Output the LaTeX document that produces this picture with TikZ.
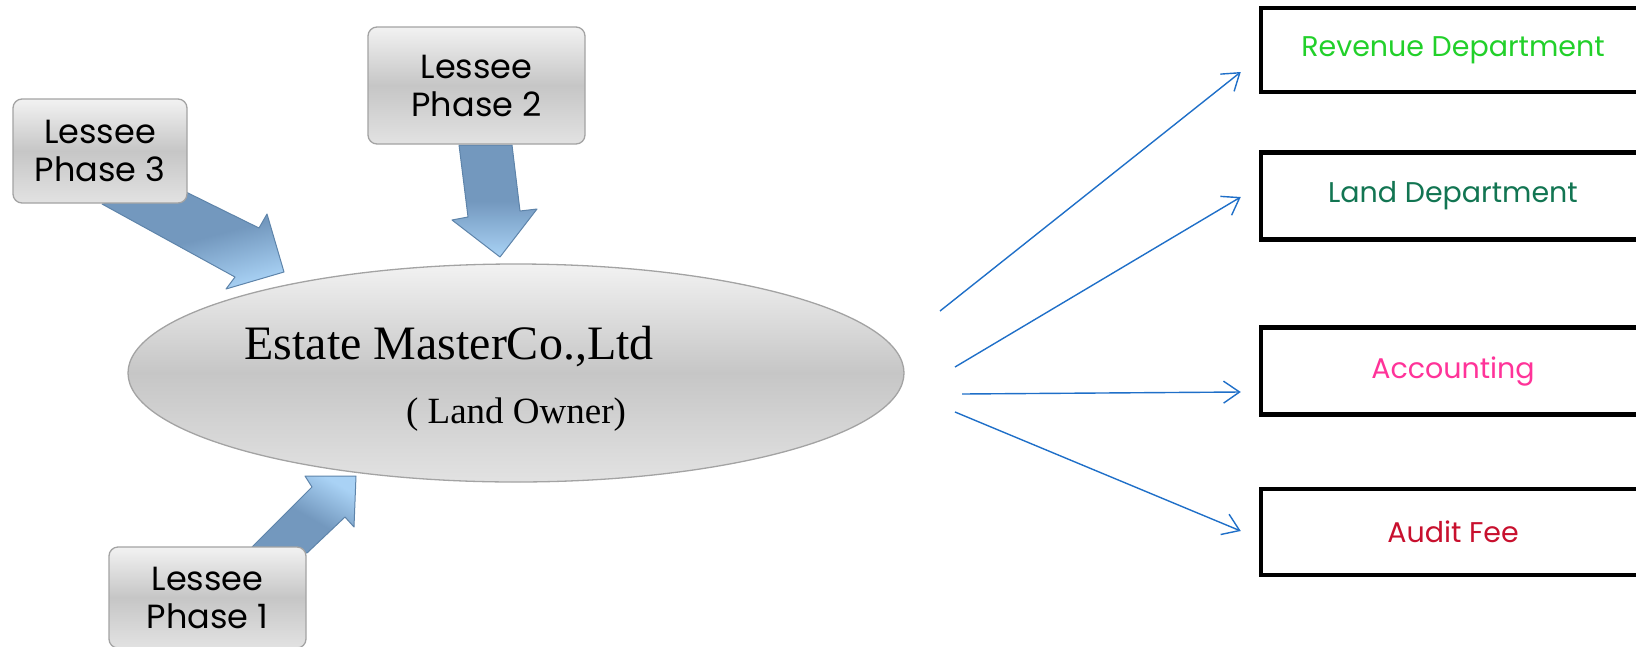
\documentclass[tikz,border=0pt]{standalone}
\usepackage{fontspec}
\setmainfont{Poppins}
\newfontfamily\serifface{Liberation Serif}
\usetikzlibrary{calc,arrows.meta,shapes.geometric}
\definecolor{graybd}{HTML}{A3A3A3}
\definecolor{grayhi}{HTML}{F2F2F2}
\definecolor{graymid}{HTML}{C6C6C6}
\definecolor{graylo}{HTML}{E2E2E2}
\definecolor{adark}{HTML}{7398BE}
\definecolor{alight}{HTML}{A9D2F5}
\definecolor{abord}{HTML}{5E84AA}
\definecolor{linkblue}{HTML}{1F6FC8}
\definecolor{revgreen}{HTML}{22D02A}
\definecolor{landgreen}{HTML}{127552}
\definecolor{accpink}{HTML}{FF3399}
\definecolor{auditred}{HTML}{C8102E}
\tikzset{
  lessee/.style={draw=graybd, line width=1.3pt, rounded corners=9pt,
    top color=grayhi, bottom color=graylo, middle color=graymid,
    align=center, font=\fontsize{33.5}{38}\selectfont, inner sep=0pt},
  deptbox/.style={draw=black, line width=4.5pt, fill=white, minimum width=384pt,
    inner sep=0pt, font=\fontsize{28.5}{32}\selectfont},
  blockarrow/.style={draw=abord, line width=1pt, line join=round},
  link/.style={draw=linkblue, line width=1.4pt, -{Straight Barb[length=16pt,width=22pt,line width=1.4pt]}},
  serifbig/.style={font=\serifface\fontsize{48}{50}\selectfont, inner sep=0pt, anchor=base},
  serifsmall/.style={font=\serifface\fontsize{37}{40}\selectfont, inner sep=0pt, anchor=base}
}
\begin{document}
\begin{tikzpicture}[x=1pt,y=-1pt]
\useasboundingbox (0,0) rectangle (1636,646);
\clip (0,0) rectangle (1636,646);
% block arrows (drawn first, boxes cover their tails)
\path[blockarrow, top color=adark, bottom color=alight, middle color=adark, shading angle=15]
  (102,204) -- (235,277) -- (226,289) -- (284,272) -- (267,214) -- (259,228) -- (186,192) -- cycle;
\path[blockarrow, top color=adark, bottom color=alight, middle color=adark]
  (459,145) -- (468,217) -- (452,220) -- (500,257) -- (537,209) -- (520,211) -- (512,145) -- cycle;
\path[blockarrow, top color=alight, bottom color=adark, middle color=adark, shading angle=-30]
  (252,547) -- (312,487) -- (305,476) -- (356,476) -- (354,527) -- (345,517) -- (307,553) -- cycle;
% gray shapes
\node[lessee, minimum width=217pt, minimum height=117pt] (p2) at (476.5,85.5) {Lessee\\Phase 2};
\node[lessee, minimum width=174pt, minimum height=104pt] (p3) at (100,151) {Lessee\\Phase 3};
\node[lessee, minimum width=197pt, minimum height=101pt] (p1) at (207.5,597.5) {Lessee\\Phase 1};
\node[ellipse, draw=graybd, line width=1.3pt, top color=grayhi, bottom color=graylo, middle color=graymid,
  minimum width=776pt, minimum height=218pt, inner sep=0pt] (own) at (516,373) {};
\node[serifbig] (title) at (449,359) {Estate MasterCo.,Ltd};
\node[serifsmall] (sub) at (516,423) {( Land Owner)};
% department boxes
\node[deptbox, minimum height=84pt, text=revgreen] (rev) at (1453,50) {Revenue Department};
\node[deptbox, minimum height=87pt, text=landgreen] (land) at (1453,196) {Land Department};
\node[deptbox, minimum height=87pt, text=accpink] (acc) at (1453,371) {Accounting};
\node[deptbox, minimum height=86pt, text=auditred] (aud) at (1453,532) {Audit Fee};
% link start points
\coordinate (s1) at (940,311);
\coordinate (s2) at (955,367);
\coordinate (s3) at (962,394);
\coordinate (s4) at (955,412);
\draw[link] (s1) -- ($(rev.west)+(-18,22)$);
\draw[link] (s2) -- ($(land.west)+(-18,1)$);
\draw[link] (s3) -- ($(acc.west)+(-18,21)$);
\draw[link] (s4) -- ($(aud.west)+(-18,-1)$);
\end{tikzpicture}
\end{document}
